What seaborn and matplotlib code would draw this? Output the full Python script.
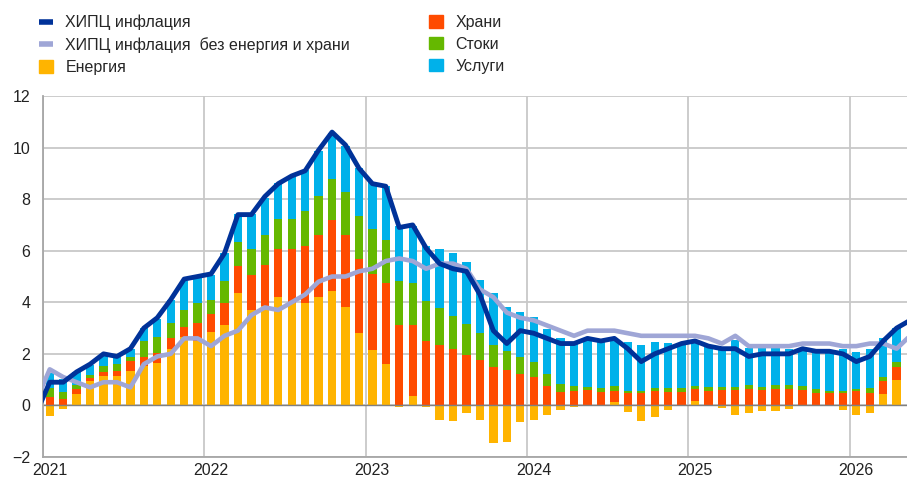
import matplotlib.pyplot as plt
import seaborn as sns
import pandas as pd
import numpy as np
from matplotlib.lines import Line2D
from matplotlib.patches import Patch

# contributions, monthly Jan 2021 - Apr 2026 (percentage points)
energy = [-0.40, -0.13, 0.43, 0.94, 1.16, 1.16, 1.32, 1.52, 1.63, 2.20, 2.67, 2.49,
          2.83, 3.10, 4.36, 3.72, 3.84, 4.19, 3.97, 3.97, 4.19, 4.45, 3.80, 2.81,
          2.16, 1.62, -0.08, 0.38, -0.08, -0.56, -0.60, -0.30, -0.56, -1.46, -1.42, -0.66,
          -0.55, -0.37, -0.17, -0.05, 0.03, -0.03, 0.12, -0.26, -0.59, -0.45, -0.17, 0.01,
          0.18, 0.02, -0.10, -0.36, -0.30, -0.21, -0.21, -0.14, 0.00, -0.04, 0.00, -0.17,
          -0.36, -0.30, 0.45, 0.97]
food = [0.32, 0.26, 0.22, 0.14, 0.13, 0.16, 0.39, 0.34, 0.42, 0.43, 0.37, 0.69,
        0.72, 0.89, 1.04, 1.33, 1.59, 1.89, 2.11, 2.23, 2.43, 2.73, 2.82, 2.85,
        2.94, 3.13, 3.10, 2.73, 2.51, 2.36, 2.20, 1.97, 1.77, 1.49, 1.37, 1.23,
        1.11, 0.77, 0.52, 0.57, 0.57, 0.54, 0.44, 0.48, 0.48, 0.57, 0.52, 0.52,
        0.45, 0.55, 0.58, 0.58, 0.64, 0.58, 0.64, 0.64, 0.58, 0.48, 0.48, 0.48,
        0.55, 0.48, 0.48, 0.51]
goods = [0.35, 0.26, 0.15, 0.10, 0.22, 0.30, 0.17, 0.64, 0.60, 0.55, 0.68, 0.80,
         0.54, 0.84, 0.94, 1.00, 1.17, 1.15, 1.15, 1.33, 1.51, 1.60, 1.66, 1.68,
         1.75, 1.68, 1.71, 1.64, 1.55, 1.40, 1.26, 1.19, 1.04, 0.87, 0.74, 0.65,
         0.56, 0.46, 0.30, 0.19, 0.13, 0.14, 0.20, 0.09, 0.09, 0.10, 0.16, 0.15,
         0.13, 0.13, 0.13, 0.13, 0.14, 0.13, 0.17, 0.14, 0.19, 0.16, 0.09, 0.09,
         0.09, 0.19, 0.16, 0.19]
services = [0.60, 0.50, 0.48, 0.40, 0.45, 0.30, 0.30, 0.50, 0.72, 0.92, 1.12, 0.95,
            0.97, 1.07, 1.09, 1.39, 1.45, 1.40, 1.62, 1.59, 1.75, 1.79, 1.80, 1.86,
            1.80, 2.07, 2.14, 2.22, 2.14, 2.30, 2.45, 2.40, 2.07, 2.00, 1.70, 1.73,
            1.76, 1.74, 1.79, 1.68, 1.80, 1.82, 1.78, 1.88, 1.78, 1.78, 1.73, 1.74,
            1.73, 1.62, 1.55, 1.82, 1.45, 1.50, 1.43, 1.42, 1.42, 1.52, 1.56, 1.60,
            1.42, 1.53, 1.52, 1.35]

# lines, Dec 2020 - May 2026
hicp = [-0.3,
        0.9, 0.9, 1.3, 1.6, 2.0, 1.9, 2.2, 3.0, 3.4, 4.1, 4.9, 5.0,
        5.1, 5.9, 7.4, 7.4, 8.1, 8.6, 8.9, 9.1, 9.9, 10.6, 10.1, 9.2,
        8.6, 8.5, 6.9, 7.0, 6.1, 5.5, 5.3, 5.2, 4.3, 2.9, 2.4, 2.9,
        2.8, 2.6, 2.4, 2.4, 2.6, 2.5, 2.6, 2.2, 1.7, 2.0, 2.2, 2.4,
        2.5, 2.3, 2.2, 2.2, 1.9, 2.0, 2.0, 2.0, 2.2, 2.1, 2.1, 2.0,
        1.7, 1.9, 2.5, 3.0, 3.3]
core = [0.2,
        1.4, 1.1, 0.9, 0.7, 0.9, 0.9, 0.7, 1.6, 1.9, 2.0, 2.6, 2.6,
        2.3, 2.7, 2.9, 3.5, 3.8, 3.7, 4.0, 4.3, 4.8, 5.0, 5.0, 5.2,
        5.3, 5.6, 5.7, 5.6, 5.3, 5.5, 5.5, 5.3, 4.5, 4.2, 3.6, 3.4,
        3.3, 3.1, 2.9, 2.7, 2.9, 2.9, 2.9, 2.8, 2.7, 2.7, 2.7, 2.7,
        2.7, 2.6, 2.4, 2.7, 2.3, 2.3, 2.3, 2.3, 2.4, 2.4, 2.4, 2.3,
        2.3, 2.4, 2.4, 2.2, 2.7]

years = ['2021', '2022', '2023', '2024', '2025', '2026']

lbl_hicp = 'ХИПЦ инфлация'
lbl_core = 'ХИПЦ инфлация  без енергия и храни'
lbl_bars = ['Енергия', 'Храни', 'Стоки', 'Услуги']
colors = ['#FFB400', '#FF4B00', '#65B800', '#00B1EA']
c_hicp = '#003299'
c_core = '#9FA6D6'
grid_c = '#c8c8c8'

sns.set_theme(style='white')
plt.rcParams['font.family'] = ['Liberation Sans', 'DejaVu Sans']

fig = plt.figure(figsize=(9.07, 4.82), dpi=100)
ax = fig.add_axes([43 / 907, 25 / 482, 1 - 43 / 907, 361 / 482])

# stacked bars (positive up, negative down)
x = np.arange(len(energy))
pos = np.zeros(len(x))
neg = np.zeros(len(x))
for vals, col in zip([energy, food, goods, services], colors):
    v = np.array(vals)
    bottom = np.where(v >= 0, pos, neg)
    ax.bar(x, v, bottom=bottom, width=0.62, color=col, linewidth=0, zorder=2)
    pos = pos + np.where(v >= 0, v, 0)
    neg = neg + np.where(v < 0, v, 0)

lines = pd.DataFrame({'m': np.arange(-1, len(hicp) - 1), 'hicp': hicp, 'core': core})
sns.lineplot(data=lines, x='m', y='core', ax=ax, color=c_core, lw=3.3, zorder=3)
sns.lineplot(data=lines, x='m', y='hicp', ax=ax, color=c_hicp, lw=3.5, zorder=4)

ax.axhline(0, color='#808080', lw=1, zorder=2.5)

ax.set_xlim(-0.5, 63.77)
ax.set_ylim(-2, 12)
ax.set_yticks(range(-2, 13, 2))
ax.grid(True, axis='y', color=grid_c, lw=1.3, zorder=0)
# year gridlines at the start of each year, labels at mid-January
for k in range(len(years)):
    ax.axvline(-0.5 + 12 * k, color=grid_c, lw=1.3, zorder=0)
ax.set_xticks([12 * k for k in range(len(years))])
ax.set_xticklabels(years)
ax.set_axisbelow(True)
ax.set_xlabel('')
ax.set_ylabel('')
ax.tick_params(length=0, labelsize=11.5, colors='#222222')
ax.tick_params(axis='y', pad=9)
ax.tick_params(axis='x', pad=4)
for s in ['top', 'right']:
    ax.spines[s].set_visible(False)
for s in ['left', 'bottom']:
    ax.spines[s].set_color('#a6a6a6')
    ax.spines[s].set_linewidth(1.3)

# legend
h1 = [Line2D([], [], color=c_hicp, lw=4, solid_capstyle='butt'),
      Line2D([], [], color=c_core, lw=4, solid_capstyle='butt'),
      Patch(color=colors[0])]
h2 = [Patch(color=c) for c in colors[1:]]
kw = dict(loc='upper left', frameon=False, fontsize=11.5, handlelength=0.85,
          handleheight=0.8, handletextpad=0.8, labelspacing=0.43, borderaxespad=0,
          borderpad=0)
fig.legend(h1, [lbl_hicp, lbl_core, lbl_bars[0]], bbox_to_anchor=(39 / 907, 1 - 15 / 482), **kw)
fig.legend(h2, lbl_bars[1:], bbox_to_anchor=(429 / 907, 1 - 15 / 482), **kw)

fig.savefig('out.png', dpi=100)
